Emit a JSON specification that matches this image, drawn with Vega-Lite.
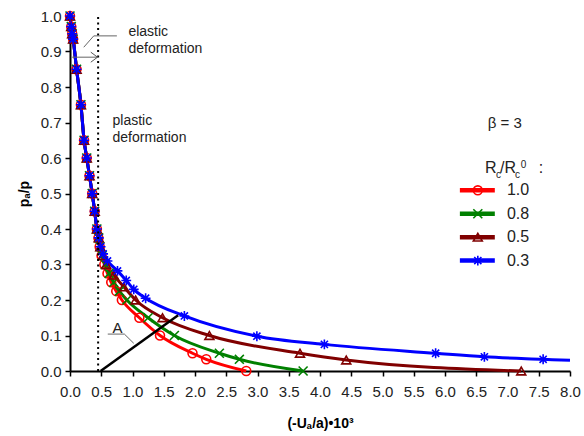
{
  "$schema": "https://vega.github.io/schema/vega-lite/v6.json",
  "width": 500,
  "height": 355,
  "autosize": {"type": "none"},
  "padding": {"left": 70, "top": 16, "right": 14, "bottom": 65},
  "background": "white",
  "config": {
    "view": {"stroke": null},
    "font": "Liberation Sans",
    "axis": {
      "domainColor": "black", "domainWidth": 2,
      "tickColor": "black", "tickWidth": 1.5, "tickSize": 5,
      "labelFont": "Liberation Sans", "labelFontSize": 15, "labelColor": "#222",
      "grid": false,
      "titleFont": "Liberation Sans", "titleFontSize": 14, "titleFontWeight": "bold", "titleColor": "black"
    }
  },
  "datasets": {
    "curves": [
      {"s":"1.0","x":0,"y":1.0},{"s":"1.0","x":0.02,"y":0.97},{"s":"1.0","x":0.035,"y":0.95},{"s":"1.0","x":0.05,"y":0.935},{"s":"1.0","x":0.105,"y":0.85},{"s":"1.0","x":0.175,"y":0.75},{"s":"1.0","x":0.225,"y":0.65},{"s":"1.0","x":0.268,"y":0.6},{"s":"1.0","x":0.312,"y":0.55},{"s":"1.0","x":0.355,"y":0.5},{"s":"1.0","x":0.395,"y":0.45},{"s":"1.0","x":0.43,"y":0.4},
      {"s":"1.0","x":0.455,"y":0.375},{"s":"1.0","x":0.475,"y":0.35},{"s":"1.0","x":0.505,"y":0.325},{"s":"1.0","x":0.55,"y":0.3},{"s":"1.0","x":0.6,"y":0.275},{"s":"1.0","x":0.66,"y":0.25},{"s":"1.0","x":0.74,"y":0.225},{"s":"1.0","x":0.83,"y":0.2},{"s":"1.0","x":1.11,"y":0.15},{"s":"1.0","x":1.44,"y":0.1},{"s":"1.0","x":1.96,"y":0.05},{"s":"1.0","x":2.18,"y":0.033},{"s":"1.0","x":2.82,"y":0.0},

      {"s":"0.8","x":0,"y":1.0},{"s":"0.8","x":0.02,"y":0.97},{"s":"0.8","x":0.035,"y":0.95},{"s":"0.8","x":0.05,"y":0.935},{"s":"0.8","x":0.105,"y":0.85},{"s":"0.8","x":0.175,"y":0.75},{"s":"0.8","x":0.225,"y":0.65},{"s":"0.8","x":0.268,"y":0.6},{"s":"0.8","x":0.312,"y":0.55},{"s":"0.8","x":0.355,"y":0.5},{"s":"0.8","x":0.395,"y":0.45},{"s":"0.8","x":0.43,"y":0.4},
      {"s":"0.8","x":0.46,"y":0.375},{"s":"0.8","x":0.48,"y":0.35},{"s":"0.8","x":0.515,"y":0.325},{"s":"0.8","x":0.565,"y":0.3},{"s":"0.8","x":0.625,"y":0.275},{"s":"0.8","x":0.7,"y":0.25},{"s":"0.8","x":0.79,"y":0.225},{"s":"0.8","x":0.91,"y":0.2},{"s":"0.8","x":1.25,"y":0.15},{"s":"0.8","x":1.67,"y":0.1},{"s":"0.8","x":2.39,"y":0.05},{"s":"0.8","x":2.71,"y":0.033},{"s":"0.8","x":3.73,"y":0.0},

      {"s":"0.5","x":0,"y":1.0},{"s":"0.5","x":0.02,"y":0.97},{"s":"0.5","x":0.035,"y":0.95},{"s":"0.5","x":0.05,"y":0.935},{"s":"0.5","x":0.105,"y":0.85},{"s":"0.5","x":0.175,"y":0.75},{"s":"0.5","x":0.225,"y":0.65},{"s":"0.5","x":0.268,"y":0.6},{"s":"0.5","x":0.312,"y":0.55},{"s":"0.5","x":0.355,"y":0.5},{"s":"0.5","x":0.395,"y":0.45},{"s":"0.5","x":0.43,"y":0.4},
      {"s":"0.5","x":0.46,"y":0.375},{"s":"0.5","x":0.485,"y":0.35},{"s":"0.5","x":0.525,"y":0.325},{"s":"0.5","x":0.58,"y":0.3},{"s":"0.5","x":0.7,"y":0.27},{"s":"0.5","x":0.86,"y":0.237},{"s":"0.5","x":1.05,"y":0.2},{"s":"0.5","x":1.48,"y":0.15},{"s":"0.5","x":2.23,"y":0.1},{"s":"0.5","x":3.68,"y":0.05},{"s":"0.5","x":4.42,"y":0.031},{"s":"0.5","x":7.22,"y":0.0},

      {"s":"0.3","x":0,"y":1.0},{"s":"0.3","x":0.02,"y":0.97},{"s":"0.3","x":0.035,"y":0.95},{"s":"0.3","x":0.05,"y":0.935},{"s":"0.3","x":0.105,"y":0.85},{"s":"0.3","x":0.175,"y":0.75},{"s":"0.3","x":0.225,"y":0.65},{"s":"0.3","x":0.268,"y":0.6},{"s":"0.3","x":0.312,"y":0.55},{"s":"0.3","x":0.355,"y":0.5},{"s":"0.3","x":0.395,"y":0.45},{"s":"0.3","x":0.43,"y":0.4},
      {"s":"0.3","x":0.46,"y":0.375},{"s":"0.3","x":0.49,"y":0.35},{"s":"0.3","x":0.53,"y":0.33},{"s":"0.3","x":0.6,"y":0.31},{"s":"0.3","x":0.76,"y":0.282},{"s":"0.3","x":0.9,"y":0.255},{"s":"0.3","x":1.02,"y":0.23},{"s":"0.3","x":1.21,"y":0.205},{"s":"0.3","x":1.83,"y":0.155},{"s":"0.3","x":2.99,"y":0.098},{"s":"0.3","x":4.07,"y":0.075},{"s":"0.3","x":5.85,"y":0.05},{"s":"0.3","x":6.63,"y":0.04},{"s":"0.3","x":7.57,"y":0.033},{"s":"0.3","x":8.0,"y":0.03}
    ],
    "leg": [
      {"s":"1.0","x":6.238,"x2":6.797,"xm":6.525,"xt":6.99,"y":0.509},
      {"s":"0.8","x":6.238,"x2":6.797,"xm":6.525,"xt":6.99,"y":0.443},
      {"s":"0.5","x":6.238,"x2":6.797,"xm":6.525,"xt":6.99,"y":0.377},
      {"s":"0.3","x":6.238,"x2":6.797,"xm":6.525,"xt":6.99,"y":0.311}
    ],
    "polys": [
      {"id":"el","x":0.22,"y":0.912},{"id":"el","x":0.38,"y":0.944},{"id":"el","x":0.75,"y":0.944},
      {"id":"A","x":1.02,"y":0.078},{"id":"A","x":0.87,"y":0.104},{"id":"A","x":0.604,"y":0.104},
      {"id":"arrow","x":0.035,"y":0.884},{"id":"arrow","x":0.44,"y":0.884}
    ],
    "lineA": [{"x":0.49,"y":0.0},{"x":1.73,"y":0.157}],
    "dotted": [{"x":0.45,"y":0.0},{"x":0.45,"y":1.0}],
    "head": [{"x":0.44,"y":0.884}],
    "txtL": [
      {"t":"elastic","x":0.935,"y":0.954},
      {"t":"deformation","x":0.935,"y":0.906},
      {"t":"plastic","x":0.68,"y":0.703},
      {"t":"deformation","x":0.68,"y":0.655}
    ],
    "txtC": [
      {"t":"β = 3","x":6.957,"y":0.7},
      {"t":"A","x":0.76,"y":0.122}
    ],
    "titleN": [{"t":"R","x":6.64,"y":0.557},{"t":"/R","x":6.88,"y":0.557},{"t":":","x":7.5,"y":0.557}],
    "titleSub": [{"t":"c","x":6.815,"y":0.543},{"t":"c","x":7.12,"y":0.543}],
    "titleSup": [{"t":"0","x":7.21,"y":0.572}]
  },
  "encoding": {
    "x": {"field": "x", "type": "quantitative", "scale": {"domain": [0, 8], "nice": false},
          "axis": {"title": "(-Uₐ/a)•10³", "values": [0,0.5,1,1.5,2,2.5,3,3.5,4,4.5,5,5.5,6,6.5,7,7.5,8], "format": ".1f", "labelPadding": 8, "titlePadding": 17, "labelFlush": false}},
    "y": {"field": "y", "type": "quantitative", "scale": {"domain": [0, 1], "nice": false},
          "axis": {"title": "pₐ/p", "values": [0,0.1,0.2,0.3,0.4,0.5,0.6,0.7,0.8,0.9,1], "format": ".1f", "labelPadding": 4, "titlePadding": 9, "labelFlush": false}}
  },
  "layer": [
    {
      "data": {"name": "curves"},
      "mark": {"type": "line", "strokeWidth": 3, "interpolate": "monotone"},
      "encoding": {
        "color": {"field": "s", "type": "nominal", "sort": null,
                  "scale": {"domain": ["1.0","0.8","0.5","0.3"], "range": ["#ff0000","#008000","#800000","#0000ff"]}, "legend": null},
        "order": {"field": "x", "type": "quantitative"}
      }
    },
    {
      "data": {"name": "curves"},
      "transform": [{"filter": "datum.x < 7.9"}],
      "mark": {"type": "point", "filled": false, "strokeWidth": 1.6, "size": 80, "opacity": 1},
      "encoding": {
        "color": {"field": "s", "type": "nominal", "legend": null},
        "shape": {"field": "s", "type": "nominal",
                  "scale": {"domain": ["1.0","0.8","0.5","0.3"], "range": ["circle","M-1,-1L1,1M-1,1L1,-1","triangle-up","M-1.1,0L1.1,0M0,-1.1L0,1.1M-0.8,-0.8L0.8,0.8M-0.8,0.8L0.8,-0.8"]}, "legend": null}
      }
    },
    {
      "data": {"name": "dotted"},
      "mark": {"type": "line", "color": "black", "strokeWidth": 2, "strokeDash": [2, 3.5]},
      "encoding": {}
    },
    {
      "data": {"name": "lineA"},
      "mark": {"type": "line", "color": "black", "strokeWidth": 2.5},
      "encoding": {}
    },
    {
      "data": {"name": "polys"},
      "mark": {"type": "line", "color": "#666", "strokeWidth": 1},
      "encoding": {
        "detail": {"field": "id"},
        "order": {"value": 0}
      }
    },
    {
      "data": {"name": "head"},
      "mark": {"type": "point", "shape": "M-1,-0.75L0,0L-1,0.75", "size": 180, "filled": false, "color": "#555", "strokeWidth": 1, "opacity": 1},
      "encoding": {}
    },
    {
      "data": {"name": "leg"},
      "mark": {"type": "rule", "strokeWidth": 4.5},
      "encoding": {
        "x2": {"field": "x2"},
        "color": {"field": "s", "type": "nominal", "legend": null}
      }
    },
    {
      "data": {"name": "leg"},
      "mark": {"type": "point", "filled": false, "strokeWidth": 1.6, "size": 80, "opacity": 1},
      "encoding": {
        "x": {"field": "xm", "type": "quantitative"},
        "color": {"field": "s", "type": "nominal", "legend": null},
        "shape": {"field": "s", "type": "nominal", "legend": null}
      }
    },
    {
      "data": {"name": "leg"},
      "mark": {"type": "text", "align": "left", "baseline": "middle", "fontSize": 16, "color": "#222", "font": "Liberation Sans"},
      "encoding": {
        "x": {"field": "xt", "type": "quantitative"},
        "text": {"field": "s"}
      }
    },
    {
      "data": {"name": "txtL"},
      "mark": {"type": "text", "align": "left", "baseline": "middle", "fontSize": 14, "color": "#222", "font": "Liberation Sans"},
      "encoding": {"text": {"field": "t"}}
    },
    {
      "data": {"name": "txtC"},
      "mark": {"type": "text", "align": "center", "baseline": "middle", "fontSize": 15, "color": "#222", "font": "Liberation Sans"},
      "encoding": {"text": {"field": "t"}}
    },
    {
      "data": {"name": "titleN"},
      "mark": {"type": "text", "align": "left", "baseline": "alphabetic", "fontSize": 16, "color": "#222", "font": "Liberation Sans"},
      "encoding": {"text": {"field": "t"}}
    },
    {
      "data": {"name": "titleSub"},
      "mark": {"type": "text", "align": "left", "baseline": "alphabetic", "fontSize": 10, "color": "#222", "font": "Liberation Sans"},
      "encoding": {"text": {"field": "t"}}
    },
    {
      "data": {"name": "titleSup"},
      "mark": {"type": "text", "align": "left", "baseline": "alphabetic", "fontSize": 10, "color": "#222", "font": "Liberation Sans"},
      "encoding": {"text": {"field": "t"}}
    }
  ]
}
